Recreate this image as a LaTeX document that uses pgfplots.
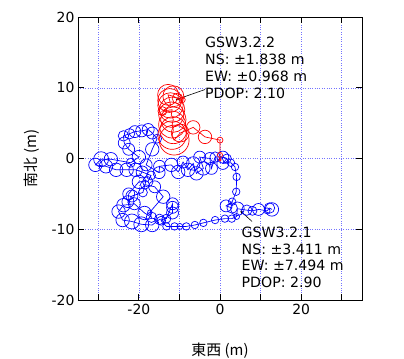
\documentclass[border=0pt]{standalone}
\usepackage{pgfplots}
\pgfplotsset{compat=1.18}
\usepackage{fontspec}
\setmainfont{DejaVu Sans}
\newfontfamily\jp{Noto Sans CJK JP}
\pgfplotstableread{
x y r
12.8 -7.2 4.5
12.2 -7.0 3.5
11.6 -7.4 2
9.5 -7.2 4
8.0 -7.4 3
6.6 -7.3 3.5
4.3 -7.1 4.5
4.1 -8.2 2
2.9 -8.5 2.5
1.2 -8.5 2.5
-1.2 -8.7 2.5
-4.1 -9.1 2.5
-6.2 -9.4 2.5
-8.3 -9.6 2.5
-9.9 -9.6 2
-11.2 -9.6 2.5
-13.2 -9.6 2.5
-14.5 -8.8 3
-11.7 -7.7 4
-11.7 -6.9 4
-11.7 -6.4 4
-13.2 -8.5 3
-14.9 -8.6 3.5
-16.7 -9.4 4.5
-19.4 -9.3 5
-21.7 -8.9 5
-24.0 -8.7 4.5
-25.0 -7.5 4.5
-23.8 -6.6 4.5
-21.1 -6.4 4
-18.6 -7.7 4.5
-16.9 -8.3 3.5
-17.3 -7.6 1.5
-14.0 -5.4 4.5
-16.1 -4.0 4
-18.5 -3.7 3
-19.0 -4.8 3
-21.7 -5.3 4
-22.7 -6.1 4
-22.5 -5.0 4
-20.0 -3.3 4.5
-17.8 -3.3 3.5
-17.0 -2.4 3
-19.2 -1.9 4
-20.8 -1.6 4.5
-23.0 -1.6 4.5
-25.6 -1.6 4.5
-28.1 -1.1 4.5
-30.7 -0.9 4.5
-29.3 -0.1 5
-26.9 -0.1 4.5
-22.0 -0.6 3
-20.0 0.2 4.5
-22.5 1.3 4
-23.6 2.2 4
-23.8 3.2 3.5
-22.3 3.5 3.5
-21.0 3.8 4
-19.3 3.9 4
-17.7 4.1 4
-16.7 3.6 4
-15.5 2.8 3
-16.7 1.3 4.5
-18.2 -0.9 4
-15.0 -2.0 4
-14.9 -1.1 4
-12.0 -0.9 4.5
-10.3 -1.9 4.5
-9.1 -0.5 4
-7.9 -1.6 4.5
-6.6 -0.7 4.5
-5.8 -2.1 4.5
-4.1 -1.4 4.5
-5.0 0.2 4
-2.5 0.0 4
-2.1 -1.4 4
-1.2 0.2 3.5
0.7 0.2 4
1.7 0.0 3
0.7 -0.7 4
2.7 -0.6 2.5
3.7 -1.2 2.5
4.1 -2.6 2.5
4.0 -4.7 2.5
3.0 -6.1 2.5
1.5 -6.7 4
3.0 -7.0 3.5
}\bluedata
\pgfplotstableread{
x y r
0.0 -0.2 0.8
0.0 0.5 1.7
0.0 2.6 2
-3.7 3.05 4.5
-6.6 4.4 4.5
-9.8 3.6 6
-11.3 2.6 10
-11.8 3.3 9.5
-11.5 4.0 9
-11.8 4.8 9
-11.5 5.5 8.5
-12.0 6.2 8.5
-11.8 6.9 8.5
-14.2 6.7 3
-12.2 7.5 8.5
-12.4 8.2 8
-12.8 9.0 7
-11.5 8.8 7
-10.5 8.5 3.5
-9.3 8.3 2
}\reddata
\begin{document}
\begin{tikzpicture}
\path[use as bounding box] (-78bp,-59bp) rectangle (326bp,300bp);
\begin{axis}[
  at={(0,0)}, anchor=south west,
  scale only axis, width=284bp, height=283bp,
  xmin=-35, xmax=35, ymin=-20, ymax=20,
  xtick={-30,-20,...,30}, xticklabels={,-20,,0,,20,},
  ytick={-20,-10,...,20}, yticklabels={-20,-10,0,10,20},
  tick align=inside, major tick length=6bp,
  tick style={black, line width=0.8pt},
  axis line style={line width=0.8pt},
  grid=major, grid style={blue!55, dotted, line width=0.5pt},
  ticklabel style={font=\fontsize{14}{16}\selectfont},
  xticklabel style={yshift=-1bp},
  xlabel={\jp 東西 (m)}, ylabel={\jp 南北 (m)},
  label style={font=\fontsize{15}{18}\selectfont},
  xlabel style={at={(axis description cs:0.5,-0.18)}, anchor=center},
  ylabel style={at={(axis description cs:-0.162,0.5)}, anchor=center},
  clip=false,
  /pgf/number format/assume math mode=true,
]
\addplot[blue, line width=0.7pt, mark=o, scatter,
  scatter/use mapped color={draw=blue},
  visualization depends on={\thisrow{r}\as\rr},
  scatter/@pre marker code/.append style={/tikz/mark size=1.5*\rr, /tikz/line width=0.7pt}]
  table[x=x, y=y] {\bluedata};
\addplot[red, line width=0.7pt, mark=o, scatter,
  scatter/use mapped color={draw=red},
  visualization depends on={\thisrow{r}\as\rr},
  scatter/@pre marker code/.append style={/tikz/mark size=1.5*\rr, /tikz/line width=0.7pt}]
  table[x=x, y=y] {\reddata};
\draw[->, >=stealth, line width=0.6pt] (axis cs:-3.7,9.75) -- (axis cs:-10.9,8.3);
\draw[->, >=stealth, line width=0.6pt] (axis cs:7.9,-8.9) -- (axis cs:5.0,-7.4);
\node[anchor=north west, align=left, inner sep=0pt, font=\fontsize{14.2}{17}\selectfont]
  at (axis cs:-3.7,17.2) {GSW3.2.2\\NS: ±1.838 m\\EW: ±0.968 m\\PDOP: 2.10};
\node[anchor=north west, align=left, inner sep=0pt, font=\fontsize{14.2}{17}\selectfont]
  at (axis cs:5.3,-9.6) {GSW3.2.1\\NS: ±3.411 m\\EW: ±7.494 m\\PDOP: 2.90};
\end{axis}
\end{tikzpicture}
\end{document}
